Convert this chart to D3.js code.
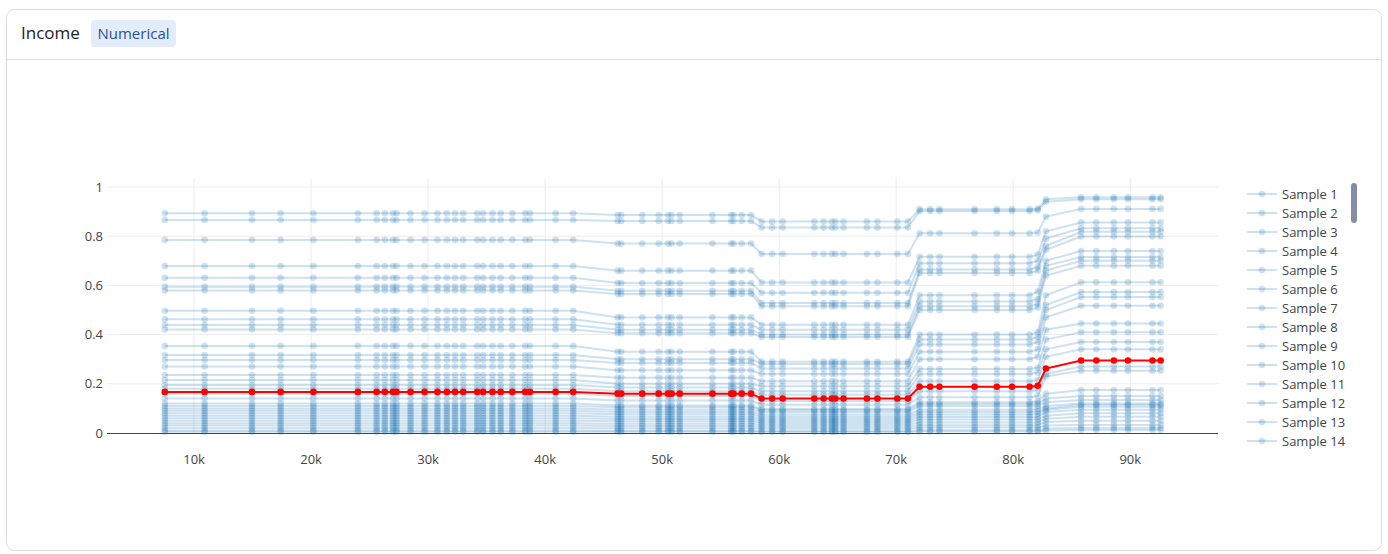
<!DOCTYPE html>
<html>
<head>
<meta charset="utf-8">
<script src="https://cdn.jsdelivr.net/npm/d3@7"></script>
<style>
  body { margin: 0; background: #fff; font-family: "Open Sans", "Noto Sans", sans-serif; }
</style>
</head>
<body>
<div id="chart"></div>
<script>
// income grid values (k)
const incomes = [7.5, 10.9, 14.95, 17.4, 20.2, 24.0, 25.6, 26.3, 27.0, 27.3, 28.5, 29.7, 30.8, 31.6, 32.3, 33.0, 34.2, 34.7, 35.5, 36.2, 37.2, 38.3, 38.7, 40.9, 42.4,
  46.2, 46.5, 48.3, 49.7, 50.5, 50.8, 51.5, 54.3, 55.9, 56.1, 56.8, 57.6,
  58.5, 59.4, 60.3, 63.0, 63.8, 64.5, 64.8, 65.5, 67.5, 68.4, 70.1, 71.0,
  72.0, 72.9, 73.7, 76.7, 78.6, 79.9, 81.4,
  82.1, 82.8,
  85.8, 87.1, 88.6, 89.8, 91.9, 92.6];
// which level of a sample applies at each income value
const segment = [0,0,0,0,0,0,0,0,0,0,0,0,0,0,0,0,0,0,0,0,0,0,0,0,0,
  1,1,1,1,1,1,1,1,1,1,1,1,
  2,2,2,2,2,2,2,2,2,2,2,2,
  3,3,3,3,3,3,3,
  4,5,
  6,6,6,6,6,6];
// predicted probability levels per sample, one per segment
const samples = [
  [.893,.886,.860,.910,.912,.950,.958],
  [.866,.862,.835,.902,.905,.940,.950],
  [.785,.770,.728,.812,.815,.880,.911],
  [.679,.660,.612,.716,.725,.820,.856],
  [.631,.610,.570,.690,.700,.790,.832],
  [.595,.578,.528,.665,.675,.760,.818],
  [.579,.565,.515,.650,.660,.745,.799],
  [.497,.470,.440,.560,.575,.700,.740],
  [.462,.440,.420,.535,.545,.680,.715],
  [.439,.420,.400,.515,.525,.660,.700],
  [.421,.405,.390,.500,.510,.640,.680],
  [.354,.330,.290,.400,.410,.560,.613],
  [.317,.300,.280,.380,.390,.520,.573],
  [.297,.285,.262,.360,.370,.500,.553],
  [.270,.255,.240,.330,.340,.470,.517],
  [.236,.225,.210,.300,.310,.420,.445],
  [.215,.200,.190,.260,.265,.380,.410],
  [.195,.185,.170,.240,.245,.340,.370],
  [.180,.170,.155,.210,.215,.310,.340],
  [.160,.150,.130,.170,.175,.240,.270],
  [.140,.132,.115,.145,.150,.230,.253],
  [.120,.112,.098,.125,.128,.160,.175],
  [.110,.105,.092,.118,.120,.140,.150],
  [.100,.095,.085,.110,.112,.125,.134],
  [.090,.085,.075,.095,.098,.110,.120],
  [.080,.076,.066,.085,.087,.100,.115],
  [.070,.066,.058,.075,.077,.095,.107],
  [.060,.057,.050,.065,.066,.085,.095],
  [.050,.048,.042,.055,.056,.070,.080],
  [.040,.038,.034,.043,.044,.058,.066],
  [.030,.028,.025,.032,.033,.045,.050],
  [.020,.019,.017,.022,.022,.030,.033],
  [.010,.009,.008,.011,.011,.018,.020],
  [.005,.005,.004,.006,.006,.010,.012]
];
// average curve (red)
const average = [.167, .160, .140, .188, .192, .262, .295];
const xTicks = [10, 20, 30, 40, 50, 60, 70, 80, 90];
const yTicks = [0, 0.2, 0.4, 0.6, 0.8, 1];
const legendCount = 14;

const W = 1388, H = 554;
const svg = d3.select("#chart").append("svg").attr("width", W).attr("height", H);

// card
svg.append("rect").attr("x", 6.5).attr("y", 9.5).attr("width", 1375).attr("height", 541)
  .attr("rx", 8).attr("fill", "#fff").attr("stroke", "#dcdcdc");
svg.append("line").attr("x1", 7).attr("x2", 1381).attr("y1", 59.5).attr("y2", 59.5).attr("stroke", "#dcdcdc");
svg.append("text").attr("x", 21).attr("y", 39).attr("font-size", 17).attr("fill", "#222").text("Income");
svg.append("rect").attr("x", 91).attr("y", 20).attr("width", 85).attr("height", 27).attr("rx", 4).attr("fill", "#e2ecfb");
svg.append("text").attr("x", 133.5).attr("y", 39).attr("text-anchor", "middle").attr("font-size", 15).attr("fill", "#2f4f8f").text("Numerical");

const x = d3.scaleLinear().domain([2.56, 97.5]).range([107, 1218]);
const y = d3.scaleLinear().domain([0, 1]).range([433, 187]);
const plotTop = 178;

const g = svg.append("g");
g.selectAll(".vg").data(xTicks).enter().append("line")
  .attr("x1", d => x(d)).attr("x2", d => x(d)).attr("y1", plotTop).attr("y2", 433)
  .attr("stroke", "#ececec");
g.selectAll(".hg").data(yTicks.slice(1)).enter().append("line")
  .attr("x1", 107).attr("x2", 1218).attr("y1", d => y(d)).attr("y2", d => y(d))
  .attr("stroke", "#ececec");
g.selectAll(".xl").data(xTicks).enter().append("text")
  .attr("x", d => x(d)).attr("y", 464).attr("text-anchor", "middle")
  .attr("font-size", 13).attr("fill", "#444").text(d => d + "k");
g.selectAll(".yl").data(yTicks).enter().append("text")
  .attr("x", 103).attr("y", d => y(d) + 4.5).attr("text-anchor", "end")
  .attr("font-size", 13).attr("fill", "#444").text(d => d3.format("~g")(d));

const line = d3.line().x(d => x(d[0])).y(d => y(d[1]));
const blue = "#1f77b4";

samples.forEach(s => {
  const pts = incomes.map((v, i) => [v, s[segment[i]]]);
  g.append("path").attr("d", line(pts)).attr("fill", "none")
    .attr("stroke", blue).attr("stroke-width", 2).attr("stroke-opacity", 0.22);
  g.append("g").selectAll("circle").data(pts).enter().append("circle")
    .attr("cx", d => x(d[0])).attr("cy", d => y(d[1])).attr("r", 3.3)
    .attr("fill", blue).attr("fill-opacity", 0.22);
});

g.append("line").attr("x1", 107).attr("x2", 1218).attr("y1", 433.5).attr("y2", 433.5).attr("stroke", "#444");

const avgPts = incomes.map((v, i) => [v, average[segment[i]]]);
g.append("path").attr("d", line(avgPts)).attr("fill", "none").attr("stroke", "#ff0000").attr("stroke-width", 2);
g.append("g").selectAll("circle").data(avgPts).enter().append("circle")
  .attr("cx", d => x(d[0])).attr("cy", d => y(d[1])).attr("r", 3.3).attr("fill", "#ff0000");

// legend
const lg = svg.append("g");
const items = d3.range(1, legendCount + 1);
items.forEach((n, i) => {
  const yy = 194 + i * 19;
  lg.append("line").attr("x1", 1247).attr("x2", 1277).attr("y1", yy).attr("y2", yy)
    .attr("stroke", blue).attr("stroke-width", 2).attr("stroke-opacity", 0.22);
  lg.append("circle").attr("cx", 1262).attr("cy", yy).attr("r", 3.3).attr("fill", blue).attr("fill-opacity", 0.22);
  lg.append("text").attr("x", 1282).attr("y", yy + 4.5).attr("font-size", 13).attr("fill", "#444").text("Sample " + n);
});
lg.append("rect").attr("x", 1351).attr("y", 183).attr("width", 6).attr("height", 40).attr("rx", 3).attr("fill", "#858ea6");
</script>
</body>
</html>
